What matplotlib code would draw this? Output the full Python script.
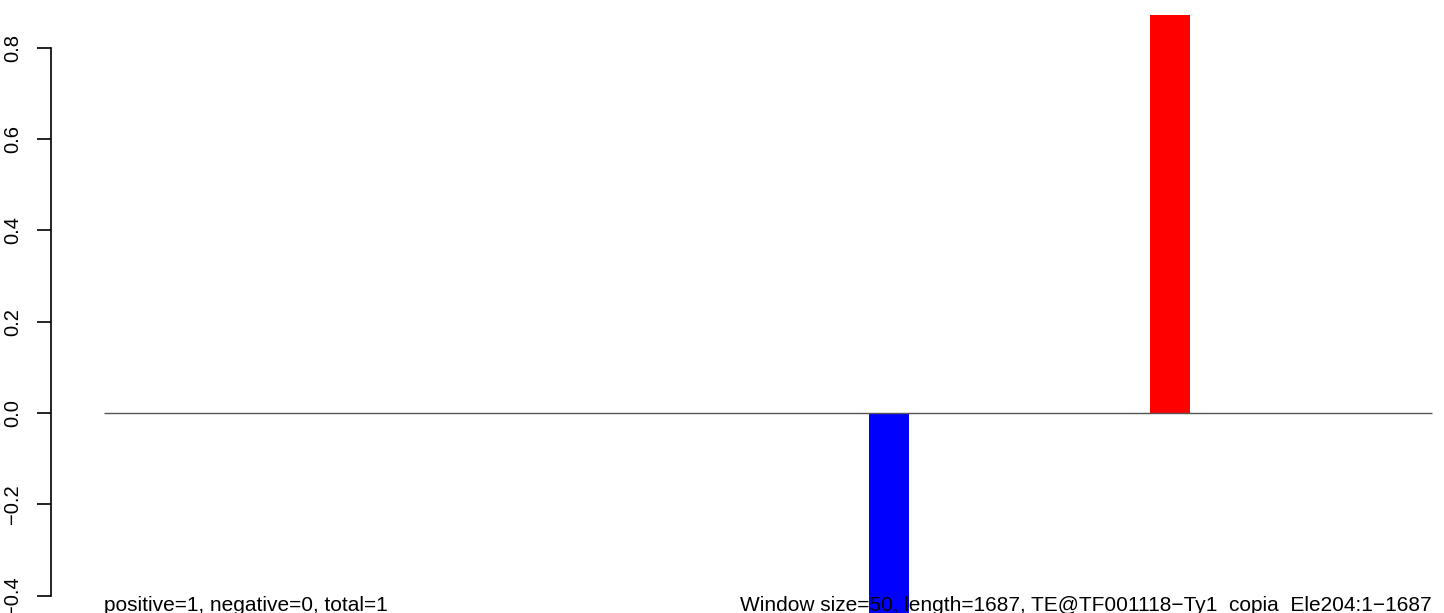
import matplotlib.pyplot as plt

# window start positions (bp), window width and score per window
win_start = [950, 1300]
win_value = [-0.45, 0.872]
win_colors = ['blue', 'red']
win_size = 50
seq_len = 1650
y_ticks = [-0.4, -0.2, 0.0, 0.2, 0.4, 0.6, 0.8]
y_labels = ['\u22120.4', '\u22120.2', '0.0', '0.2', '0.4', '0.6', '0.8']
left_note = 'positive=1, negative=0, total=1'
right_note = 'Window size=50, length=1687, TE@TF001118\u2212Ty1_copia_Ele204:1\u22121687'

plt.rcParams['font.family'] = ['Liberation Sans', 'DejaVu Sans']

W, H = 1444, 613
fig = plt.figure(figsize=(W / 100, H / 100), dpi=100)
# plot region: left edge at x=51px, extends a little past the right edge
ax = fig.add_axes([51 / W, 0, (1485 - 51) / W, 1])
ax.set_xlim(-66, 1716)
ax.set_ylim(-0.438, 0.9045)

ax.bar(win_start, win_value, width=win_size, align='edge', color=win_colors, zorder=2)
ax.hlines(0, 0, seq_len, color='#555555', lw=1, zorder=3)

# notes sit on the bottom edge, baseline just above it
ax.text(0, -0.4336, left_note, ha='left', va='baseline', fontsize=15, zorder=4)
ax.text(seq_len, -0.4336, right_note, ha='right', va='baseline', fontsize=15, zorder=4)

for s in ['top', 'right', 'bottom']:
    ax.spines[s].set_visible(False)
ax.spines['left'].set_bounds(-0.4, 0.8)
ax.spines['left'].set_linewidth(1.2)
ax.set_xticks([])
ax.set_yticks(y_ticks)
ax.set_yticklabels(y_labels, rotation=90, va='center', fontsize=14.5)
ax.tick_params(axis='y', length=10, width=1.2, pad=11)
ax.patch.set_alpha(0)

fig.savefig('out.png', dpi=100)
